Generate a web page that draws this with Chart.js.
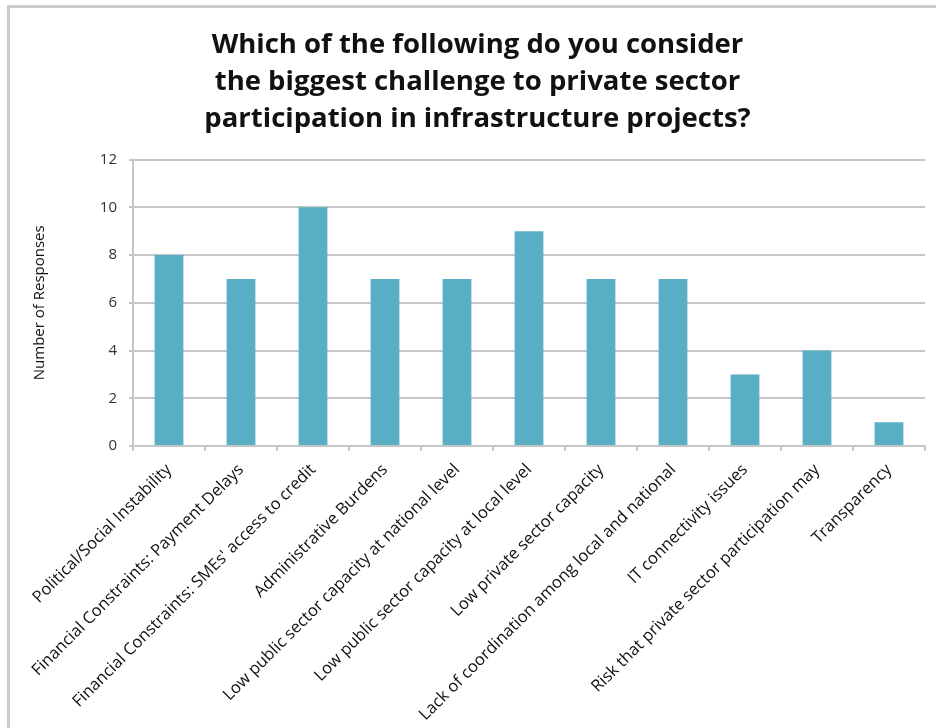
<!DOCTYPE html>
<html>
<head>
<meta charset="utf-8">
<script src="https://cdn.jsdelivr.net/npm/chart.js@4"></script>
<style>
  html, body { margin: 0; padding: 0; background: #fff; }
  #wrap { position: relative; width: 936px; height: 728px; }
  #frame {
    position: absolute; left: 7px; top: 5px; right: -10px; bottom: -10px;
    border-left: 3px solid #cbcbcb; border-top: 3px solid #cbcbcb;
  }
  canvas { position: absolute; left: 0; top: 0; }
</style>
</head>
<body>
<div id="wrap">
  <div id="frame"></div>
  <canvas id="graphe" width="936" height="728"></canvas>
</div>
<script>
const categories = [
  "Political/Social Instability",
  "Financial Constraints: Payment Delays",
  "Financial Constraints: SMEs' access to credit",
  "Administrative Burdens",
  "Low public sector capacity at national level",
  "Low public sector capacity at local level",
  "Low private sector capacity",
  "Lack of coordination among local and national",
  "IT connectivity issues",
  "Risk that private sector participation may",
  "Transparency"
];
const responses = [8, 7, 10, 7, 7, 9, 7, 7, 3, 4, 1];
const yTicks = [0, 2, 4, 6, 8, 10, 12];

const titre = [
  "Which of the following do you consider",
  "the biggest challenge to private sector",
  "participation in infrastructure projects?"
];

const police = "'Open Sans', Lato, sans-serif";
const gris = "#c6c6c6";

new Chart(document.getElementById("graphe"), {
  type: "bar",
  data: {
    labels: categories,
    datasets: [{
      data: responses,
      backgroundColor: "#58afc6",
      barPercentage: 0.8,
      categoryPercentage: 0.5
    }]
  },
  options: {
    responsive: false,
    animation: false,
    layout: { padding: { left: 30, right: 11, top: 27, bottom: 0 } },
    plugins: {
      legend: { display: false },
      tooltip: { enabled: false },
      title: {
        display: true,
        text: titre,
        color: "#111",
        font: { family: police, size: 27.5, weight: "bold", lineHeight: 1.34 },
        padding: { top: 0, bottom: 22 }
      }
    },
    scales: {
      y: {
        min: 0,
        max: 12,
        afterBuildTicks: (s) => { s.ticks = yTicks.map(v => ({ value: v })); },
        afterFit: (s) => { s.width = 103; },
        border: { color: gris, width: 2 },
        grid: { color: gris, lineWidth: 2, tickLength: 4 },
        ticks: { color: "#333", font: { family: police, size: 15 }, padding: 12 },
        title: {
          display: true,
          text: "Number of Responses",
          color: "#111",
          font: { family: police, size: 15 },
          padding: { top: 1, bottom: 0 }
        }
      },
      x: {
        afterFit: (s) => { s.height = 282; },
        border: { color: gris, width: 2 },
        grid: { color: gris, lineWidth: 2, drawOnChartArea: false, tickLength: 5 },
        ticks: {
          color: "#111",
          font: { family: police, size: 16.5 },
          maxRotation: 45,
          minRotation: 45,
          autoSkip: false,
          padding: 9
        }
      }
    }
  }
});
</script>
</body>
</html>
